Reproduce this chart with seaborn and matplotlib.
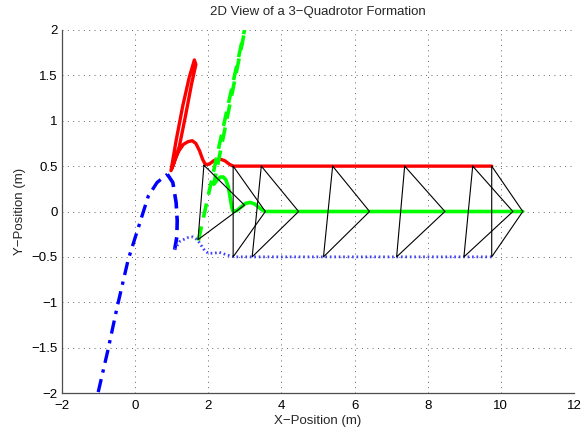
import matplotlib
matplotlib.use("Agg")
import matplotlib.pyplot as plt
import seaborn as sns
import pandas as pd

# red quadrotor path (spike, hump, then flat at y=0.5)
red_x = [0.98, 1.12, 1.30, 1.48, 1.62, 1.66, 1.54, 1.38, 1.21, 1.07, 1.00,
         1.08, 1.20, 1.32, 1.45, 1.56, 1.66, 1.76, 1.85, 1.92, 2.02,
         2.15, 2.30, 2.45, 2.58, 2.68, 9.75]
red_y = [0.45, 0.78, 1.16, 1.48, 1.67, 1.62, 1.40, 1.06, 0.72, 0.54, 0.47,
         0.57, 0.67, 0.74, 0.77, 0.78, 0.75, 0.67, 0.57, 0.52, 0.52,
         0.56, 0.58, 0.56, 0.52, 0.50, 0.50]

# green quadrotor: fast dashed leg, then settling curve
green_dash_x = [1.73, 3.10, 2.15]
green_dash_y = [-0.32, 2.20, 0.30]
green_x = [2.15, 2.25, 2.33, 2.41, 2.48, 2.55, 2.60, 2.64, 2.68, 2.78,
           2.90, 3.02, 3.15, 3.28, 3.40, 3.50, 3.56, 10.60]
green_y = [0.30, 0.35, 0.38, 0.38, 0.35, 0.27, 0.15, 0.05, 0.00, 0.01,
           0.05, 0.09, 0.10, 0.08, 0.04, 0.01, 0.00, 0.00]

# blue quadrotor: rise, drop, settle at y=-0.5
blue_rise_x = [-1.01, -0.74, -0.49, -0.19, 0.14, 0.36, 0.60, 0.88]
blue_rise_y = [-1.99, -1.52, -1.05, -0.53, -0.11, 0.17, 0.32, 0.41]
blue_drop_x = [0.88, 1.03, 1.12, 1.15, 1.14, 1.08]
blue_drop_y = [0.41, 0.32, 0.10, -0.10, -0.28, -0.42]
blue_settle_x = [1.08, 1.22, 1.42, 1.58, 1.70, 1.80, 1.90, 2.00, 2.15,
                 2.30, 2.45, 2.60, 2.70, 9.75]
blue_settle_y = [-0.42, -0.33, -0.29, -0.28, -0.31, -0.37, -0.43, -0.46,
                 -0.46, -0.45, -0.47, -0.49, -0.50, -0.50]

# formation snapshots (triangle vertices)
tri_red_x = [1.88, 2.68, 3.45, 5.40, 7.37, 9.23, 9.75]
tri_red_y = [0.51, 0.50, 0.50, 0.50, 0.50, 0.50, 0.50]
tri_green_x = [2.99, 3.56, 4.47, 6.41, 8.47, 10.33, 10.60]
tri_green_y = [0.07, 0.00, 0.00, 0.00, 0.00, 0.00, 0.00]
tri_blue_x = [1.72, 2.68, 3.20, 5.15, 7.15, 8.99, 9.75]
tri_blue_y = [-0.31, -0.50, -0.50, -0.50, -0.50, -0.50, -0.50]

sns.set_style("white")
plt.rcParams['font.family'] = ['Liberation Sans', 'DejaVu Sans']
plt.rcParams['font.size'] = 8.5

fig = plt.figure(figsize=(5.82, 4.33), dpi=100)
ax = fig.add_axes([62 / 582, 1 - 393 / 433, (574 - 62) / 582, (393 - 30) / 433])


def draw(x, y, **kw):
    df = pd.DataFrame({"x": x, "y": y})
    sns.lineplot(data=df, x="x", y="y", sort=False, estimator=None, ax=ax, **kw)


draw(red_x, red_y, color=(1, 0, 0), linewidth=2.4)
draw(green_dash_x, green_dash_y, color=(0, 1, 0), linewidth=2.6, linestyle=(0, (4, 2.5)))
draw(green_x, green_y, color=(0, 1, 0), linewidth=2.6)
draw(blue_rise_x, blue_rise_y, color=(0, 0, 1), linewidth=2.4, linestyle=(0, (4, 2, 1, 2)))
draw(blue_drop_x, blue_drop_y, color=(0, 0, 1), linewidth=2.6, linestyle=(0, (4, 2)))
draw(blue_settle_x, blue_settle_y, color=(0.25, 0.25, 1), linewidth=2.0, linestyle=(0, (0.6, 1.0)))

for i in range(len(tri_red_x)):
    tx = [tri_red_x[i], tri_green_x[i], tri_blue_x[i], tri_red_x[i]]
    ty = [tri_red_y[i], tri_green_y[i], tri_blue_y[i], tri_red_y[i]]
    ax.plot(tx, ty, color="black", linewidth=0.8)

ax.set_xlim(-2, 12)
ax.set_ylim(-2, 2)
ax.set_xticks(range(-2, 13, 2))
ax.set_yticks([-2, -1.5, -1, -0.5, 0, 0.5, 1, 1.5, 2])
ax.set_yticklabels(["\u22122", "\u22121.5", "\u22121", "\u22120.5", "0", "0.5", "1", "1.5", "2"])
ax.grid(True, color="0.4", linestyle=(0, (1, 4.5)), linewidth=0.7)
for s in ["top", "right"]:
    ax.spines[s].set_visible(False)
for s in ["left", "bottom"]:
    ax.spines[s].set_color("0.3")
    ax.spines[s].set_linewidth(0.9)
ax.tick_params(direction="in", length=4, width=0.8, colors="black", labelsize=9.5)
ax.tick_params(axis="x", pad=5)
ax.tick_params(axis="y", pad=3)
ax.set_title("2D View of a 3\u2212Quadrotor Formation", fontsize=9.5, pad=11)
ax.set_xlabel("X\u2212Position (m)", fontsize=9.5, labelpad=2)
ax.set_ylabel("Y\u2212Position (m)", fontsize=9.5, labelpad=4)

fig.savefig("out.png", dpi=100)
